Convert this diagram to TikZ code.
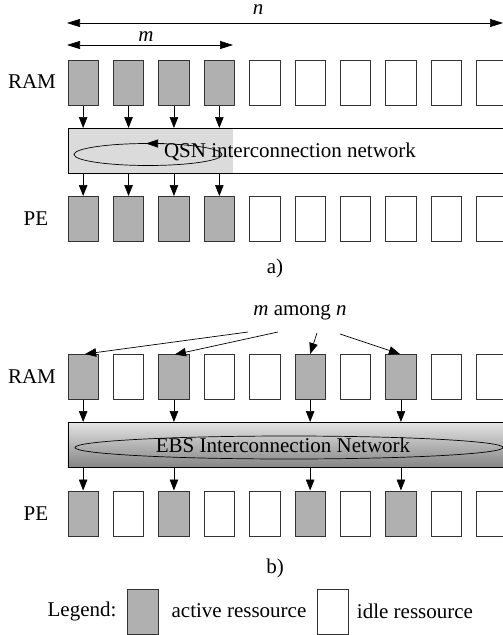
\documentclass[tikz,border=0pt]{standalone}
\usepackage{fontspec}
\setmainfont{Liberation Serif}
\usetikzlibrary{arrows.meta,calc}
\begin{document}
\begin{tikzpicture}[x=1pt,y=-1pt,
  box/.style={draw=black!80,line width=0.8pt,minimum width=30.5pt,minimum height=45pt,inner sep=0pt,anchor=north west},
  act/.style={box,fill=black!31},
  idle/.style={box,fill=white},
  arr/.style={-{Triangle[length=11pt,width=8.5pt]},line width=0.7pt},
  dimarr/.style={{Triangle[length=13pt,width=8pt]}-{Triangle[length=13pt,width=8pt]},line width=0.7pt},
  lbl/.style={font=\fontsize{21}{25}\selectfont,inner sep=0pt},
  net/.style={draw=black,line width=0.8pt,minimum width=470pt,minimum height=45pt,inner sep=0pt,anchor=north west}
]
\clip (0,0) rectangle (503,635);
% ---------- a) ----------
\coordinate (nL) at (67,23);
\coordinate (nR) at (503,23);
\draw[dimarr] (nL) -- (nR);
\node[lbl] (nlab) at (258,10) {\textit{n}};
\coordinate (mL) at (67,45);
\coordinate (mR) at (233,45);
\draw[dimarr] (mL) -- (mR);
\node[lbl] (mlab) at (146,37) {\textit{m}};

\node[lbl] (rama) at (32,82) {RAM};
\node[lbl] (pea) at (36,219) {PE};
\foreach \i/\s in {0/act,1/act,2/act,3/act,4/idle,5/idle,6/idle,7/idle,8/idle,9/idle}{
  \node[\s] (ra\i) at ({67.5+45.4*\i},60) {};
  \node[\s] (pa\i) at ({67.5+45.4*\i},196) {};
}
\fill[black!14] (67.5,128) rectangle (233,173);
\node[net] (neta) at (67.5,128) {};
\draw[line width=0.7pt] (148,154.5) ellipse [x radius=74, y radius=11];
\draw[-{Triangle[length=12pt,width=8pt]},line width=0.7pt] (164,143.5) -- (146,143.5);
\node[lbl] (qsn) at (290,152) {QSN interconnection network};
\foreach \i in {0,1,2,3}{
  \draw[arr] (ra\i.south) -- (ra\i.south |- neta.north);
  \draw[arr] (pa\i.north |- neta.south) -- (pa\i.north);
}
\node[lbl] (cap a) at (275,268) {a)};

% ---------- b) ----------
\node[lbl] (mn) at (300,312) {\textit{m} among \textit{n}};
\node[lbl] (ramb) at (32,377) {RAM};
\node[lbl] (peb) at (36,514) {PE};
\foreach \i/\s in {0/act,1/idle,2/act,3/idle,4/idle,5/act,6/idle,7/act,8/idle,9/idle}{
  \node[\s] (rb\i) at ({67.5+45.4*\i},354) {};
  \node[\s] (pb\i) at ({67.5+45.4*\i},490.5) {};
}
\node[net,top color=black!11,bottom color=black!48] (netb) at (67.5,422) {};
\draw[line width=0.7pt] (289,447.5) ellipse [x radius=214, y radius=11.5];
\node[lbl] (ebs) at (283,445) {EBS Interconnection Network};
\foreach \i in {0,2,5,7}{
  \draw[arr] (rb\i.south) -- (rb\i.south |- netb.north);
  \draw[arr] (pb\i.north |- netb.south) -- (pb\i.north);
}
\coordinate (s1) at (248,332);
\coordinate (s2) at (278,332);
\coordinate (s3) at (317,333);
\coordinate (s4) at (340,334);
\draw[arr] (s1) -- ($(rb0.north)+(2,0)$);
\draw[arr] (s2) -- ($(rb2.north)+(1,0.5)$);
\draw[arr] (s3) -- (rb5.north);
\draw[arr] (s4) -- ($(rb7.north)+(-1,0)$);
\node[lbl] (cap b) at (275,568) {b)};

% ---------- legend ----------
\node[lbl] (leg) at (82,611) {Legend:};
\node[act,minimum width=31pt] (la) at (127,589) {};
\node[lbl] (lat) at (239,611) {active ressource};
\node[idle,minimum width=30.5pt] (li) at (317,589) {};
\node[lbl] (lit) at (415,611) {idle ressource};
\end{tikzpicture}
\end{document}
